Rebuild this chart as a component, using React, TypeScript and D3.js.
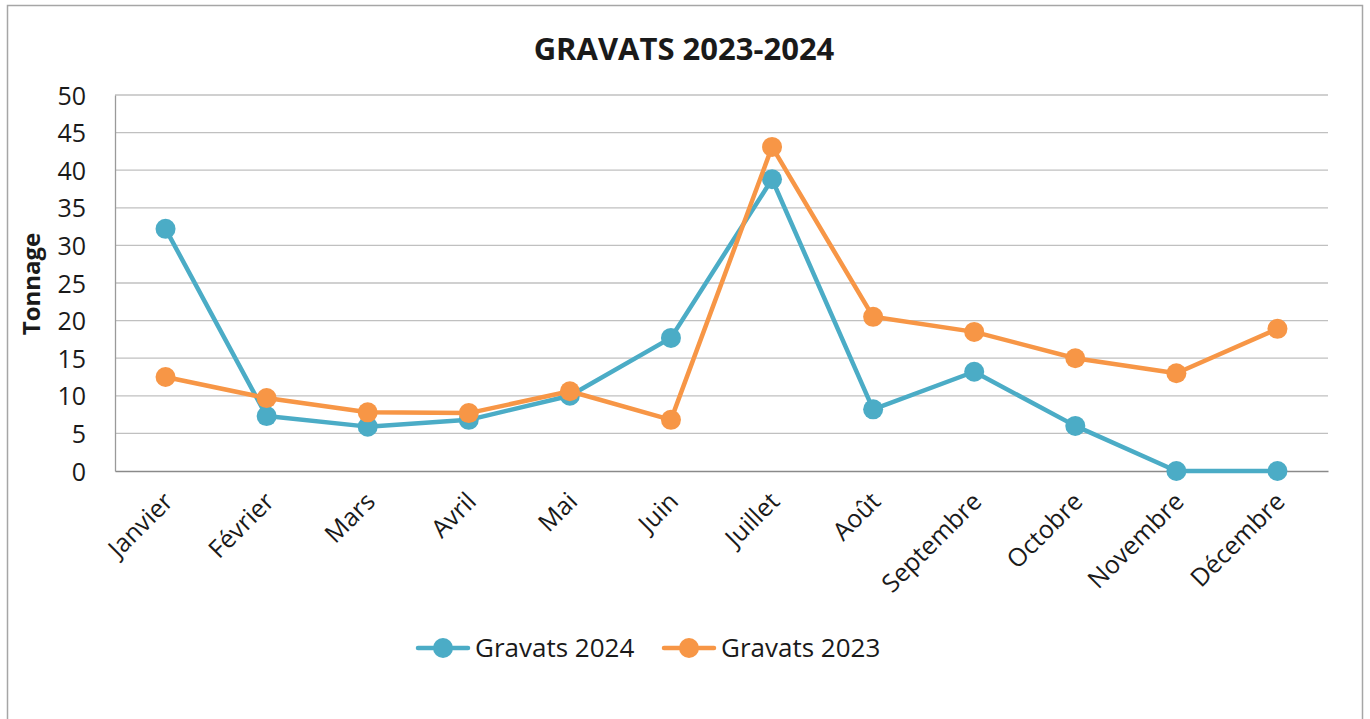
import React, { useRef, useEffect } from "react";
import * as d3 from "d3";

const WIDTH = 1370;
const HEIGHT = 719;

const months = [
  "Janvier", "Février", "Mars", "Avril", "Mai", "Juin",
  "Juillet", "Août", "Septembre", "Octobre", "Novembre", "Décembre",
];
const gravats2024 = [32.2, 7.3, 5.9, 6.8, 10, 17.7, 38.8, 8.2, 13.2, 6, 0, 0];
const gravats2023 = [12.5, 9.7, 7.8, 7.7, 10.6, 6.8, 43.1, 20.5, 18.5, 15, 13, 18.9];
const yTicks = [0, 5, 10, 15, 20, 25, 30, 35, 40, 45, 50];

const series = [
  { name: "Gravats 2024", values: gravats2024, color: "#4BACC6" },
  { name: "Gravats 2023", values: gravats2023, color: "#F79646" },
];

const FONT = "'Open Sans', sans-serif";

export default function App() {
  const svgRef = useRef<SVGSVGElement>(null);

  useEffect(() => {
    const margin = { top: 95, right: 42, bottom: 248, left: 115 };
    const svg = d3.select(svgRef.current);
    svg.selectAll("*").remove();

    // outer frame
    svg.append("rect")
      .attr("x", 7.5).attr("y", 5.5)
      .attr("width", 1355).attr("height", 720)
      .attr("fill", "#fff").attr("stroke", "#a6a6a6").attr("stroke-width", 1.5);

    const x = d3.scaleBand().domain(months).range([margin.left, WIDTH - margin.right]);
    const y = d3.scaleLinear().domain([0, 50]).range([HEIGHT - margin.bottom, margin.top]);
    const cx = (i: number) => (x(months[i]) as number) + x.bandwidth() / 2;

    // gridlines
    svg.append("g")
      .selectAll("line")
      .data(yTicks.filter((t) => t > 0))
      .join("line")
      .attr("x1", margin.left).attr("x2", WIDTH - margin.right)
      .attr("y1", (d) => y(d)).attr("y2", (d) => y(d))
      .attr("stroke", "#c0c0c0").attr("stroke-width", 1.3);

    // axes
    const yAxis = svg.append("g")
      .attr("transform", `translate(${margin.left},0)`)
      .call(d3.axisLeft(y).tickValues(yTicks).tickSize(0).tickPadding(29));
    yAxis.select(".domain").attr("stroke", "#9a9a9a").attr("stroke-width", 1.3);
    yAxis.selectAll("text")
      .attr("font-family", FONT).attr("font-size", 25).attr("fill", "#1a1a1a")
      .attr("dy", "0.36em");

    const xAxis = svg.append("g")
      .attr("transform", `translate(0,${y(0)})`)
      .call(d3.axisBottom(x).tickSize(0).tickPadding(0));
    xAxis.select(".domain").attr("stroke", "#8a8a8a").attr("stroke-width", 1.3);
    xAxis.selectAll("text")
      .attr("font-family", FONT).attr("font-size", 25).attr("fill", "#1a1a1a")
      .attr("text-anchor", "end")
      .attr("dy", 0).attr("y", 0)
      .attr("transform", "translate(9,32) rotate(-45)");

    // lines + markers
    const line = d3.line<number>()
      .x((d, i) => cx(i))
      .y((d) => y(d));

    series.forEach((s) => {
      svg.append("path")
        .datum(s.values)
        .attr("d", line)
        .attr("fill", "none")
        .attr("stroke", s.color)
        .attr("stroke-width", 4.5)
        .attr("stroke-linejoin", "round");
      svg.append("g")
        .selectAll("circle")
        .data(s.values)
        .join("circle")
        .attr("cx", (d, i) => cx(i))
        .attr("cy", (d) => y(d))
        .attr("r", 10)
        .attr("fill", s.color);
    });

    // title
    svg.append("text")
      .attr("x", 684).attr("y", 60)
      .attr("text-anchor", "middle")
      .attr("font-family", FONT).attr("font-weight", "bold").attr("font-size", 31)
      .attr("fill", "#1a1a1a")
      .text("GRAVATS 2023-2024");

    // y axis title
    svg.append("text")
      .attr("transform", `translate(40,284) rotate(-90)`)
      .attr("text-anchor", "middle")
      .attr("font-family", FONT).attr("font-weight", "bold").attr("font-size", 24)
      .attr("fill", "#1a1a1a")
      .text("Tonnage");

    // legend
    const legendX = [418, 664];
    series.forEach((s, i) => {
      const g = svg.append("g").attr("transform", `translate(${legendX[i]},648)`);
      g.append("line").attr("x1", 0).attr("x2", 50)
        .attr("stroke", s.color).attr("stroke-width", 4.5).attr("stroke-linecap", "round");
      g.append("circle").attr("cx", 25).attr("r", 10).attr("fill", s.color);
      g.append("text")
        .attr("x", 57).attr("dy", "0.36em")
        .attr("font-family", FONT).attr("font-size", 26).attr("fill", "#1a1a1a")
        .text(s.name);
    });
  }, []);

  return (
    <div style={{ position: "fixed", left: 0, top: 0 }}>
      <svg ref={svgRef} width={WIDTH} height={HEIGHT} style={{ display: "block" }} />
    </div>
  );
}
